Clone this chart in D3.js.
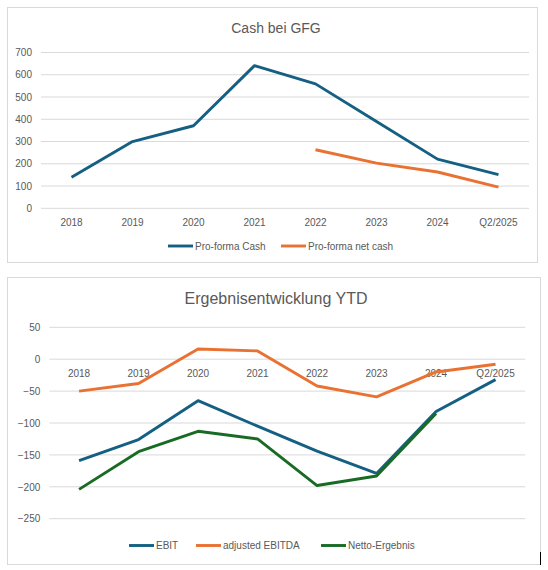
<!DOCTYPE html>
<html>
<head>
<meta charset="utf-8">
<script src="https://cdn.jsdelivr.net/npm/d3@7"></script>
<style>
    body { margin: 0; background: #fff; }
    svg text { font-family: "Liberation Sans", Arial, sans-serif; fill: #595959; }
</style>
</head>
<body>
<svg id="mainSvgArea" width="548" height="570"></svg>
<script>
var categories = ["2018", "2019", "2020", "2021", "2022", "2023", "2024", "Q2/2025"];

// Cash bei GFG
var proFormaCash = [140, 300, 371, 641, 559, 390, 221, 151];
var proFormaNetCash = [null, null, null, null, 263, 203, 163, 95];
var cashTicks = [0, 100, 200, 300, 400, 500, 600, 700];

// Ergebnisentwicklung YTD
var ebit = [-159, -126, -65, -105, -144, -179, -82, -32];
var adjustedEbitda = [-50, -38, 16, 13, -42, -59, -20, -8];
var nettoErgebnis = [-204, -145, -113, -125, -198, -183, -85, null];
var resultTicks = [-250, -200, -150, -100, -50, 0, 50];

var blue = "#156082", orange = "#E97132", green = "#196B24";

var svg = d3.select("#mainSvgArea");

drawChart({
    frame: {x: 7.5, y: 7.5, w: 530, h: 255},
    title: "Cash bei GFG", titleY: 33.3, titleSize: "14px",
    x0: 41, x1: 529, yTop: 52.5, yBottom: 208.3,
    ticks: cashTicks,
    series: [
        {name: "Pro-forma Cash", values: proFormaCash, color: blue},
        {name: "Pro-forma net cash", values: proFormaNetCash, color: orange}
    ],
    legendY: 246, legendX: [168, 281]
});

drawChart({
    frame: {x: 7.5, y: 277.5, w: 533, h: 287},
    title: "Ergebnisentwicklung YTD", titleY: 304.3, titleSize: "16px",
    x0: 49.3, x1: 525.3, yTop: 327.3, yBottom: 518.7,
    ticks: resultTicks,
    series: [
        {name: "EBIT", values: ebit, color: blue},
        {name: "adjusted EBITDA", values: adjustedEbitda, color: orange},
        {name: "Netto-Ergebnis", values: nettoErgebnis, color: green}
    ],
    legendY: 545.5, legendX: [129, 196, 321]
});

// little black mark at the lower right of the screenshot
svg.append("line")
    .attr("x1", 540.5).attr("x2", 540.5)
    .attr("y1", 552).attr("y2", 565)
    .attr("stroke", "#000").attr("stroke-width", 1);

function drawChart(cfg) {
    var g = svg.append("g");

    g.append("rect")
        .attr("x", cfg.frame.x).attr("y", cfg.frame.y)
        .attr("width", cfg.frame.w).attr("height", cfg.frame.h)
        .attr("fill", "#fff")
        .attr("stroke", "#d9d9d9");

    g.append("text")
        .attr("x", 276)
        .attr("y", cfg.titleY)
        .attr("text-anchor", "middle")
        .style("font-size", cfg.titleSize)
        .text(cfg.title);

    var x = d3.scaleBand().domain(categories).range([cfg.x0, cfg.x1]);
    var y = d3.scaleLinear()
        .domain(d3.extent(cfg.ticks))
        .range([cfg.yBottom, cfg.yTop]);

    // gridlines
    g.append("g").selectAll("line").data(cfg.ticks).enter().append("line")
        .attr("x1", cfg.x0).attr("x2", cfg.x1)
        .attr("y1", function(t) {return y(t);})
        .attr("y2", function(t) {return y(t);})
        .attr("stroke", "#d9d9d9")
        .attr("stroke-width", 1);

    var yAxis = d3.axisLeft(y).tickValues(cfg.ticks).tickSize(0).tickPadding(9);
    g.append("g")
        .attr("transform", "translate(" + cfg.x0 + ",0)")
        .call(yAxis)
        .call(function(a) {a.select(".domain").remove();})
        .selectAll("text")
        .style("font-size", "10px")
        .attr("font-family", null)
        .style("fill", "#595959");

    var xAxis = d3.axisBottom(x).tickSize(0).tickPadding(10.5);
    g.append("g")
        .attr("transform", "translate(0," + y(0) + ")")
        .call(xAxis)
        .call(function(a) {a.select(".domain").remove();})
        .selectAll("text")
        .style("font-size", "10px")
        .style("fill", "#595959");

    var line = d3.line()
        .defined(function(v) {return v !== null;})
        .x(function(v, i) {return x(categories[i]) + x.bandwidth() / 2;})
        .y(function(v) {return y(v);});

    cfg.series.forEach(function(s, index) {
        g.append("path")
            .datum(s.values)
            .attr("d", line)
            .attr("fill", "none")
            .attr("stroke", s.color)
            .attr("stroke-width", 2.9)
            .attr("stroke-linejoin", "round");

        var lx = cfg.legendX[index];
        g.append("line")
            .attr("x1", lx).attr("x2", lx + 25)
            .attr("y1", cfg.legendY).attr("y2", cfg.legendY)
            .attr("stroke", s.color)
            .attr("stroke-width", 2.9);
        g.append("text")
            .attr("x", lx + 27)
            .attr("y", cfg.legendY)
            .attr("dy", ".35em")
            .style("font-size", "10px")
            .text(s.name);
    });
}
</script>
</body>
</html>
